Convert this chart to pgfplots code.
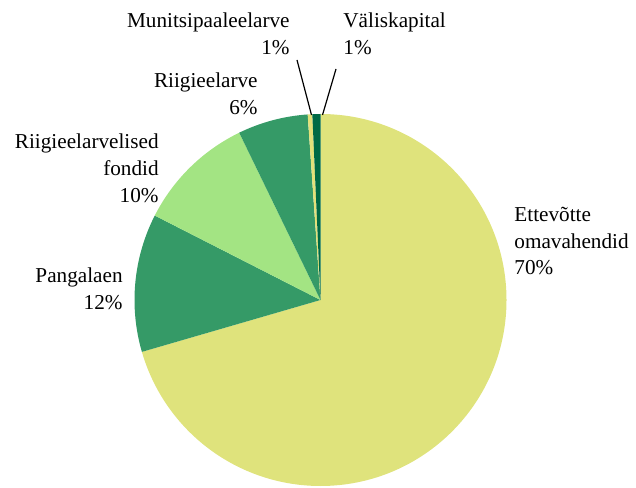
\documentclass[border=0pt]{standalone}
\usepackage{pgfplots}
\pgfplotsset{compat=1.18}
\usepackage{pgfplotstable}
\usepackage{fontspec}
\setmainfont{Liberation Serif}
\definecolor{slice0}{HTML}{DFE37C}
\definecolor{slice1}{HTML}{359A67}
\definecolor{slice2}{HTML}{A3E483}
\definecolor{slice3}{HTML}{359A67}
\definecolor{slice4}{HTML}{E2E17A}
\definecolor{slice5}{HTML}{006A45}
% share in percent, clockwise from 12 o'clock
\pgfplotstableread{
label share
Ettevotte 70.5
Pangalaen 12.0
Fondid 10.3
Riigieelarve 6.1
Munitsipaal 0.4
Valiskapital 0.7
}\piedata
\newcommand\computeangles{%
  \gdef\cumul{0}%
  \foreach \i in {0,...,5}{%
    \pgfplotstablegetelem{\i}{share}\of\piedata
    \pgfmathsetmacro\st{90-3.6*\cumul}%
    \pgfmathsetmacro\newc{\cumul+\pgfplotsretval}%
    \pgfmathsetmacro\en{90-3.6*\newc}%
    \expandafter\xdef\csname sa\i\endcsname{\st}%
    \expandafter\xdef\csname ea\i\endcsname{\en}%
    \xdef\cumul{\newc}%
  }%
}
\begin{document}
\begin{tikzpicture}
\computeangles
\path[use as bounding box] (0,0) rectangle (318pt,243.5pt);
\begin{axis}[at={(0,0)}, anchor=south west, scale only axis,
  width=318pt, height=243.5pt, xmin=0, xmax=636, ymin=0, ymax=487,
  hide axis, clip=false,
  nodes={font=\fontsize{10.6}{13.4}\selectfont, inner sep=0pt}]
\pgfplotsinvokeforeach{0,...,5}{
  \fill[slice#1] (axis cs:320.5,187) -- ++(\csname sa#1\endcsname:93pt)
    arc[start angle=\csname sa#1\endcsname, end angle=\csname ea#1\endcsname, radius=93pt] -- cycle;
}
\draw[black, line width=0.6pt] (axis cs:297,427) -- (axis cs:311.5,372);
\draw[black, line width=0.6pt] (axis cs:336,418) -- (axis cs:322.5,372);
\node[anchor=east, align=right] at (axis cs:290,453.5) {Munitsipaaleelarve\\1\%};
\node[anchor=west, align=left] at (axis cs:343,453.5) {Väliskapital\\1\%};
\node[anchor=east, align=right] at (axis cs:258,393) {Riigieelarve\\6\%};
\node[anchor=east, align=right] at (axis cs:159,318.5) {Riigieelarvelised\\fondid\\10\%};
\node[anchor=east, align=right] at (axis cs:123,198.5) {Pangalaen\\12\%};
\node[anchor=west, align=left] at (axis cs:514,246) {Ettevõtte\\omavahendid\\70\%};
\end{axis}
\end{tikzpicture}
\end{document}
